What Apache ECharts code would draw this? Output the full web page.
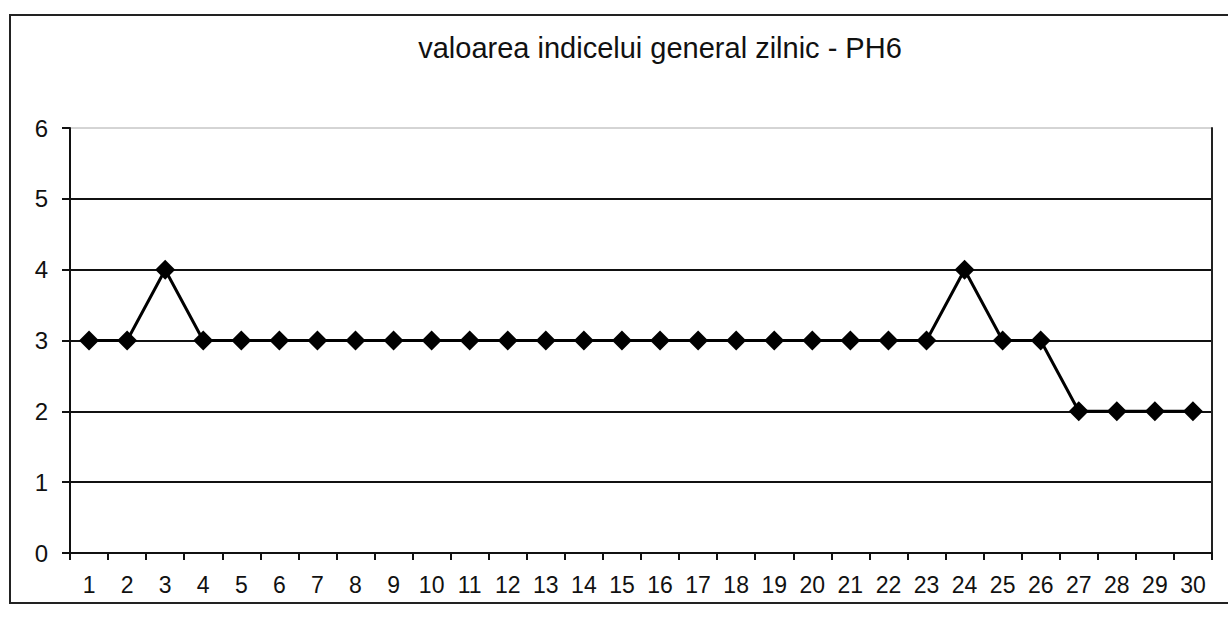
<!DOCTYPE html>
<html>
<head>
<meta charset="utf-8">
<script src="https://cdn.jsdelivr.net/npm/echarts@6/dist/echarts.min.js"></script>
<style>
  html, body { margin: 0; padding: 0; background: #fff; }
  #main { width: 1228px; height: 620px; }
</style>
</head>
<body>
<div id="main"></div>
<script>
  var zile = [];
  for (var i = 1; i <= 30; i++) zile.push(String(i));

  // valoarea indicelui pe zile
  var valori = [3, 3, 4, 3, 3, 3, 3, 3, 3, 3, 3, 3, 3, 3, 3, 3, 3, 3, 3, 3, 3, 3, 3, 4, 3, 3, 2, 2, 2, 2];

  var titlu = 'valoarea indicelui general zilnic - PH6';

  var chart = echarts.init(document.getElementById('main'), null, { renderer: 'svg' });

  var option = {
    backgroundColor: '#fff',
    animation: false,
    textStyle: { fontFamily: 'Liberation Sans, Arial, sans-serif' },
    title: {
      text: titlu,
      left: 655,
      textAlign: 'center',
      top: 28,
      textStyle: { fontSize: 29, fontWeight: 'normal', color: '#111' }
    },
    graphic: [{
      type: 'rect',
      shape: { x: 10, y: 15, width: 1230, height: 588 },
      style: { fill: 'none', stroke: '#222', lineWidth: 2 },
      silent: true
    }],
    grid: {
      left: 70, right: 16, top: 128, bottom: 67,
      show: true,
      borderWidth: 1,
      borderColor: '#aaa'
    },
    xAxis: {
      type: 'category',
      data: zile,
      boundaryGap: true,
      axisLine: { lineStyle: { color: '#111', width: 2 } },
      axisTick: { show: true, length: 7, lineStyle: { color: '#111', width: 2 } },
      axisLabel: { color: '#111', fontSize: 23, margin: 20 }
    },
    yAxis: [{
      type: 'value',
      min: 0, max: 6, interval: 1,
      axisLine: { show: true, lineStyle: { color: '#111', width: 2 } },
      axisTick: { show: true, length: 8, lineStyle: { color: '#111', width: 2 } },
      axisLabel: { color: '#111', fontSize: 24, margin: 22 },
      splitLine: {
        showMaxLine: false,
        lineStyle: { color: '#111', width: 2 }
      }
    }, {
      type: 'value',
      position: 'right',
      min: 0, max: 6, interval: 1,
      axisLine: { show: true, lineStyle: { color: '#222', width: 2 } },
      axisTick: { show: false },
      axisLabel: { show: false },
      splitLine: { show: false }
    }],
    series: [{
      type: 'line',
      data: valori,
      symbol: 'diamond',
      symbolSize: 20,
      lineStyle: { color: '#000', width: 3 },
      itemStyle: { color: '#000' }
    }]
  };

  chart.setOption(option);
</script>
</body>
</html>
